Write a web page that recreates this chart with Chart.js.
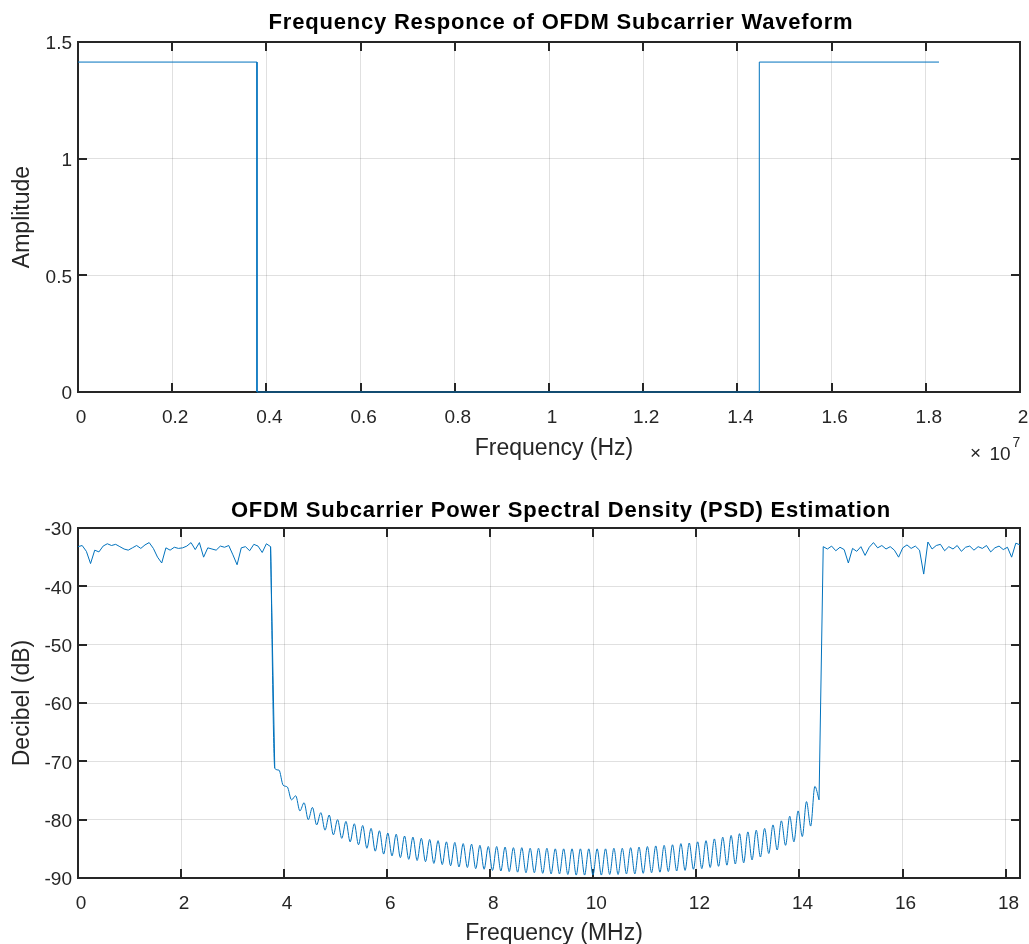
<!DOCTYPE html>
<html>
<head>
<meta charset="utf-8">
<script src="https://cdn.jsdelivr.net/npm/chart.js@4.4.1/dist/chart.umd.min.js"></script>
<style>
  body { margin: 0; background: #fff; }
  canvas { display: block; }
</style>
</head>
<body>
<canvas id="respChart" width="1029" height="470"></canvas>
<canvas id="psdChart" width="1029" height="474"></canvas>
<script>
// top plot: ideal subcarrier response (Hz, amplitude)
const respFreqHz = [0, 3.8e6, 3.8e6, 1.4465e7, 1.4465e7, 1.828e7];
const respAmp = [1.414, 1.414, 0, 0, 1.414, 1.414];
const respXTicks = [0, 0.2, 0.4, 0.6, 0.8, 1, 1.2, 1.4, 1.6, 1.8, 2];

// bottom plot: PSD estimate on a uniform grid of bins (MHz, dB)
const psdMaxMHz = 18.28;
const psdStepMHz = 18.28 / 225;
const passLowDb = [
  -33.2, -33.0, -34.0, -36.1, -33.8, -34.1, -33.1, -32.7, -33.0, -32.8,
  -33.2, -33.6, -33.8, -33.4, -33.0, -33.5, -32.9, -32.5, -33.5, -35.0,
  -36.0, -33.4, -33.8, -33.3, -33.5, -33.4, -33.1, -32.5, -33.7, -32.5,
  -35.0, -33.4, -33.6, -33.8, -33.1, -33.3, -33.0, -34.6, -36.3, -33.4,
  -33.2, -33.9, -32.8, -33.1, -34.2, -32.7, -33.2
];
const stopDb = [
  -71.2, -71.5, -74.1, -74.4, -76.6, -75.9, -78.5, -77.1, -80.0, -77.9,
  -80.9, -78.8, -81.8, -79.2, -82.6, -80.0, -83.2, -80.3, -83.8,
  -80.7, -84.3, -81.0, -84.9, -81.5, -85.4, -81.9, -85.9, -82.3, -86.2,
  -82.5, -86.5, -82.8, -86.8, -83.0, -87.0, -83.2, -87.2, -83.4, -87.5,
  -83.6, -87.7, -83.8, -87.9, -83.9, -88.1, -84.1, -88.2, -84.2, -88.4,
  -84.4, -88.5, -84.6, -88.7, -84.6, -88.8, -84.7, -88.9, -84.8, -89.0,
  -84.8, -89.1, -84.9, -89.1, -84.9, -89.2, -84.9, -89.3, -85.0, -89.3,
  -85.0, -89.4, -85.0, -89.5, -85.0, -89.5, -85.0, -89.5, -85.0, -89.5,
  -85.0, -89.4, -84.9, -89.4, -84.9, -89.3, -84.8, -89.3, -84.7, -89.2,
  -84.6, -89.1, -84.5, -89.0, -84.4, -88.9, -84.3, -88.8, -84.1, -88.7,
  -84.0, -88.5, -83.8, -88.4, -83.6, -88.2, -83.3, -88.0, -83.0, -87.8,
  -82.7, -87.6, -82.4, -87.4, -82.1, -86.9, -81.8, -86.4, -81.5, -85.8,
  -80.9, -85.2, -80.2, -84.4, -79.4, -83.8, -78.5, -82.9, -76.9, -81.1,
  -74.3, -76.6
];
const passHighDb = [
  -33.2, -33.6, -33.1, -33.9, -33.3, -33.7, -36.0, -33.5, -34.0, -33.2,
  -34.7, -33.3, -32.5, -33.4, -33.0, -33.6, -33.2, -33.8, -35.0, -33.4,
  -32.9, -33.5, -33.1, -33.8, -37.9, -32.4, -33.6, -33.0, -32.8, -33.9,
  -33.2, -33.6, -33.0, -34.0, -33.3, -33.1, -33.8, -33.2, -33.5, -33.0,
  -34.1, -33.4, -33.1, -33.7, -33.3, -35.0, -32.6, -32.9
];

const FONT = '"Liberation Sans", Arial, Helvetica, sans-serif';
const INK = 'rgb(38,38,38)';
const BLUE = '#0072bd';
const GRID = 'rgba(38,38,38,0.14)';
const TICK_LEN = 9;

// turn a run of bins into points, first bin index = start
function binPoints(values, start) {
  return values.map((v, i) => ({ x: (start + i) * psdStepMHz, y: v }));
}

// draws the matlab style box, inward ticks and the titles
function framePlugin(cfg) {
  return {
    id: 'frame',
    beforeDatasetsDraw(chart) {
      const { ctx, chartArea: a, scales } = chart;
      ctx.save();
      ctx.strokeStyle = INK;
      ctx.lineWidth = 2;
      ctx.beginPath();
      scales.x.ticks.forEach(t => {
        const px = Math.round(scales.x.getPixelForValue(t.value));
        ctx.moveTo(px, a.bottom); ctx.lineTo(px, a.bottom - TICK_LEN);
        ctx.moveTo(px, a.top); ctx.lineTo(px, a.top + TICK_LEN);
      });
      scales.y.ticks.forEach(t => {
        const py = Math.round(scales.y.getPixelForValue(t.value));
        ctx.moveTo(a.left, py); ctx.lineTo(a.left + TICK_LEN, py);
        ctx.moveTo(a.right, py); ctx.lineTo(a.right - TICK_LEN, py);
      });
      ctx.stroke();
      ctx.strokeRect(a.left, a.top, a.right - a.left, a.bottom - a.top);
      ctx.restore();
    },
    afterDraw(chart) {
      const { ctx, chartArea: a } = chart;
      ctx.save();
      ctx.fillStyle = '#000';
      ctx.textAlign = 'center';
      ctx.textBaseline = 'alphabetic';
      ctx.font = 'bold 22px ' + FONT;
      ctx.letterSpacing = '0.8px';
      ctx.fillText(cfg.title, 561, cfg.titleY);
      ctx.letterSpacing = '0px';
      ctx.fillStyle = INK;
      ctx.font = '23px ' + FONT;
      ctx.fillText(cfg.xLabel, 554, cfg.xLabelY);
      ctx.translate(29, (a.top + a.bottom) / 2);
      ctx.rotate(-Math.PI / 2);
      ctx.fillText(cfg.yLabel, 0, 0);
      ctx.restore();
      if (cfg.exponent) {
        ctx.save();
        ctx.fillStyle = INK;
        ctx.textAlign = 'left';
        ctx.font = '19px ' + FONT;
        ctx.fillText('\u00d7', 970, 459);
        ctx.fillText('10', 989.5, 460);
        ctx.font = '14px ' + FONT;
        ctx.fillText(cfg.exponent, 1012.5, 447);
        ctx.restore();
      }
    }
  };
}

function axis(opts, size) {
  return Object.assign({
    type: 'linear',
    grid: { color: GRID, drawTicks: false },
    border: { display: false },
    afterFit: s => {
      if (s.isHorizontal()) { s.height = size; s.paddingLeft = 0; s.paddingRight = 0; }
      else { s.width = size; s.paddingTop = 0; s.paddingBottom = 0; }
    }
  }, opts);
}

const tickFont = { family: FONT, size: 19 };
const xTicks = { font: tickFont, color: INK, padding: 14, labelOffset: 3, maxRotation: 0, autoSkip: false };
const yTicks = { font: tickFont, color: INK, padding: 6, labelOffset: 2, callback: v => String(v) };

new Chart(document.getElementById('respChart'), {
  type: 'line',
  data: {
    datasets: [{
      data: respFreqHz.map((f, i) => ({ x: f, y: respAmp[i] })),
      borderColor: BLUE,
      borderWidth: 1,
      pointRadius: 0,
      tension: 0,
      clip: false
    }]
  },
  options: {
    responsive: false,
    animation: false,
    events: [],
    layout: { padding: { top: 42, right: 9, left: 0, bottom: 0 } },
    plugins: { legend: { display: false }, tooltip: { enabled: false } },
    scales: {
      x: axis({
        min: 0, max: 2e7,
        afterBuildTicks: s => { s.ticks = respXTicks.map(v => ({ value: v * 1e7 })); },
        ticks: Object.assign({}, xTicks, { callback: v => String(Math.round(v / 1e6) / 10) })
      }, 78),
      y: axis({
        min: 0, max: 1.5,
        ticks: Object.assign({ stepSize: 0.5 }, yTicks)
      }, 78)
    }
  },
  plugins: [framePlugin({
    title: 'Frequency Responce of OFDM Subcarrier Waveform', titleY: 29,
    xLabel: 'Frequency (Hz)', xLabelY: 455,
    yLabel: 'Amplitude', exponent: '7'
  })]
});

const psdLine = { borderColor: BLUE, borderWidth: 1, pointRadius: 0 };
const stopStart = passLowDb.length - 1;
const highStart = passLowDb.length + stopDb.length - 1;

new Chart(document.getElementById('psdChart'), {
  type: 'line',
  data: {
    datasets: [
      Object.assign({ data: binPoints(passLowDb.concat(stopDb[0]), 0), tension: 0 }, psdLine),
      Object.assign({ data: binPoints(passLowDb.slice(-1).concat(stopDb), stopStart), cubicInterpolationMode: 'monotone' }, psdLine),
      Object.assign({ data: binPoints(stopDb.slice(-1).concat(passHighDb), highStart), tension: 0 }, psdLine)
    ]
  },
  options: {
    responsive: false,
    animation: false,
    events: [],
    layout: { padding: { top: 58, right: 9, left: 0, bottom: 0 } },
    plugins: { legend: { display: false }, tooltip: { enabled: false } },
    scales: {
      x: axis({
        min: 0, max: psdMaxMHz,
        ticks: Object.assign({ stepSize: 2, includeBounds: false }, xTicks)
      }, 66),
      y: axis({
        min: -90, max: -30,
        ticks: Object.assign({ stepSize: 10 }, yTicks)
      }, 78)
    }
  },
  plugins: [framePlugin({
    title: 'OFDM Subcarrier Power Spectral Density (PSD) Estimation', titleY: 47,
    xLabel: 'Frequency (MHz)', xLabelY: 470,
    yLabel: 'Decibel (dB)'
  })]
});
</script>
</body>
</html>
